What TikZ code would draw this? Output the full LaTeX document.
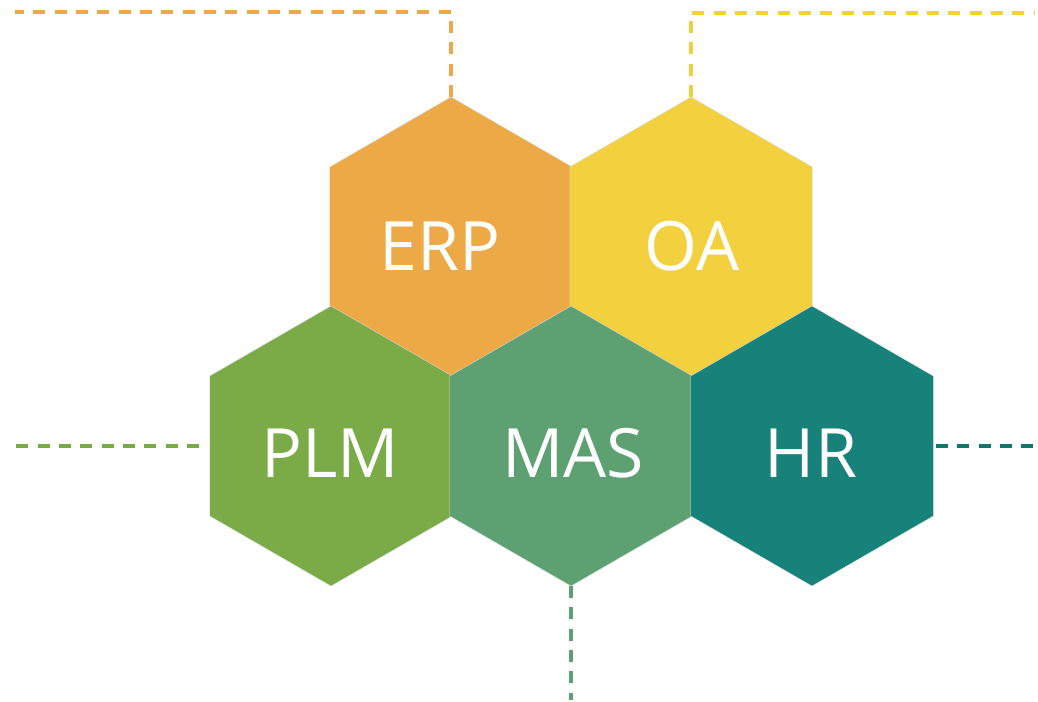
\documentclass[tikz,border=0pt]{standalone}
\usepackage{fontspec}
\setmainfont{Open Sans}
\usetikzlibrary{shapes.geometric}
\definecolor{cerp}{HTML}{EDA945}
\definecolor{coa}{HTML}{F3D13E}
\definecolor{cplm}{HTML}{7AAB46}
\definecolor{cmas}{HTML}{5DA173}
\definecolor{chr}{HTML}{168279}
\begin{document}
\begin{tikzpicture}[x=0.75pt,y=-0.75pt,
  hexa/.style={regular polygon,regular polygon sides=6,shape border rotate=30,
    minimum size=210pt,inner sep=0pt,outer sep=0pt,draw=white!85!black,line width=0.3pt},
  lbl/.style={text=white,font=\fontsize{51}{60}\selectfont,inner sep=0pt},
  dline/.style={line width=2.3pt,dash pattern=on 9pt off 7pt}]
\useasboundingbox (0,0) rectangle (1038,701);
\node[hexa,fill=cerp] (erp) at (451,237) {};
\node[hexa,fill=coa] (oa) at (691,237) {};
\node[hexa,fill=cplm] (plm) at (331,446) {};
\node[hexa,fill=cmas] (mas) at (571,446) {};
\node[hexa,fill=chr] (hr) at (812,446) {};
\node[lbl] (terp) at (440,246) {ERP};
\node[lbl] (toa) at (692,246) {OA};
\node[lbl] (tplm) at (330,453) {PLM};
\node[lbl] (tmas) at (573,453) {MAS};
\node[lbl] (thr) at (811,453) {HR};
\coordinate (e1) at (451,12);
\coordinate (e2) at (15,12);
\coordinate (o1) at (691,13);
\coordinate (o2) at (1035,13);
\coordinate (p2) at (15,446);
\coordinate (h2) at (1035,446);
\coordinate (m2) at (571,700);
\draw[dline,cerp] (erp.north) -- (e1) -- (e2);
\draw[dline,coa] (oa.north) -- (o1) -- (o2);
\draw[dline,cplm] ([xshift=-8pt]plm.west) -- (p2);
\draw[dline,chr!90!black] ([xshift=2pt]hr.east) -- (h2);
\draw[dline,cmas] (mas.south) -- (m2);
\end{tikzpicture}
\end{document}
